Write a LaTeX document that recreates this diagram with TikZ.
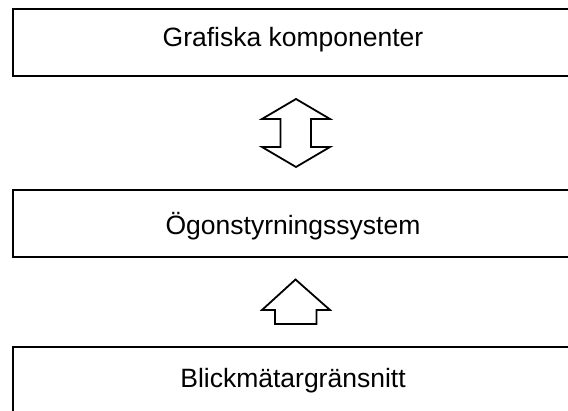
\documentclass[tikz,border=0pt]{standalone}
\usepackage{fontspec}
\setmainfont{Liberation Sans}
\begin{document}
\begin{tikzpicture}[x=1pt,y=-1pt,
  box/.style={draw=black,line width=1.8pt,minimum width=560pt,minimum height=67pt,inner sep=0pt},
  lbl/.style={anchor=base,inner sep=0pt,font=\fontsize{26.5}{30}\selectfont},
  blockarrow/.style={draw=black,line width=1.8pt,line join=miter,fill=white}]
\useasboundingbox (0,0) rectangle (568,411);
\clip (0,0) rectangle (568,411);
\node[box] (g) at (293,42.5) {};
\node[lbl] (gt) at (293,47) {Grafiska komponenter};
\node[box] (o) at (293,223.5) {};
\node[lbl] (ot) at (293,235) {Ögonstyrningssystem};
\node[box] (b) at (293,380.5) {};
\node[lbl] (bt) at (293,388) {Blickmätargränsnitt};
\draw[blockarrow] (296,99) -- (262,119) -- (280.5,119) -- (280.5,147) -- (262,147) -- (296,167) -- (330,147) -- (311,147) -- (311,119) -- (330,119) -- cycle;
\draw[blockarrow] (295.5,279.5) -- (262,310) -- (275,310) -- (275,324) -- (316.5,324) -- (316.5,310) -- (330,310) -- cycle;
\end{tikzpicture}
\end{document}
